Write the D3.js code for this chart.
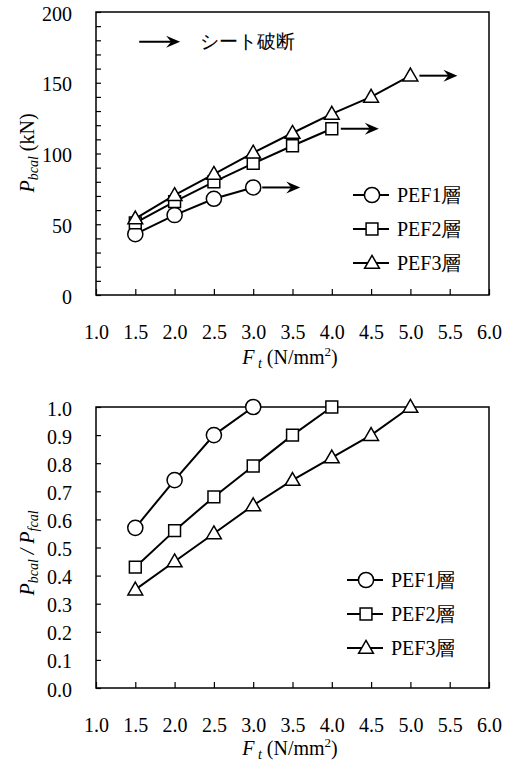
<!DOCTYPE html>
<html>
<head>
<meta charset="utf-8">
<script src="https://cdn.jsdelivr.net/npm/d3@7"></script>
<style>
  body { margin: 0; background: #fff; }
</style>
</head>
<body>
<script>
// tensile strength of fibre sheet F_t (N/mm2)
const ft = [1.5, 2.0, 2.5, 3.0, 3.5, 4.0, 4.5, 5.0]
const xTicks = [1.0, 1.5, 2.0, 2.5, 3.0, 3.5, 4.0, 4.5, 5.0, 5.5, 6.0]
const seriesNames = ['PEF1層', 'PEF2層', 'PEF3層']

// upper chart: P_bcal (kN)
const pef1Load = [43, 56.5, 68, 76]
const pef2Load = [51, 66, 80, 93, 105.5, 117.5]
const pef3Load = [54, 70.5, 85.5, 100.5, 114.5, 128, 140, 155]

// lower chart: P_bcal / P_fcal
const pef1Ratio = [0.57, 0.74, 0.90, 1.0]
const pef2Ratio = [0.43, 0.56, 0.68, 0.79, 0.90, 1.0]
const pef3Ratio = [0.35, 0.45, 0.55, 0.65, 0.74, 0.82, 0.90, 1.0]

const symbols = [d3.symbolCircle, d3.symbolSquare, d3.symbolTriangle]
const symSizes = [180, 140, 95]
const FONT = 'Liberation Serif, Times New Roman, Times, Tinos, Noto Serif, DejaVu Serif, serif'

const svg = d3.select('body').append('svg')
  .attr('width', 512)
  .attr('height', 762)
  .style('font-family', FONT)

function arrow (g, x1, x2, y) {
  g.append('line')
    .attr('x1', x1).attr('x2', x2 - 8)
    .attr('y1', y).attr('y2', y)
    .style('stroke', '#000').style('stroke-width', 2)
  g.append('path')
    .attr('d', `M${x2},${y} L${x2 - 14},${y - 6} L${x2 - 9},${y} L${x2 - 14},${y + 6} Z`)
    .style('fill', '#000')
}

function drawChart (opt) {
  const g = svg.append('g')
  const x = d3.scaleLinear().domain([1, 6]).range([96, 489])
  const y = d3.scaleLinear().domain(opt.yDomain).range([opt.bottom, opt.top])

  // frame
  g.append('rect')
    .attr('x', x.range()[0]).attr('y', opt.top)
    .attr('width', x.range()[1] - x.range()[0])
    .attr('height', opt.bottom - opt.top)
    .style('fill', 'none').style('stroke', '#000').style('stroke-width', 1.5)

  const xAxis = g.append('g')
    .attr('transform', `translate(0, ${opt.bottom})`)
    .call(d3.axisBottom(x).tickValues(xTicks).tickSize(-6).tickPadding(opt.xPad)
      .tickFormat(d3.format('.1f')))
  xAxis.attr('font-family', null).attr('font-size', 20)
  xAxis.select('.domain').remove()
  xAxis.selectAll('text').style('font-family', FONT)
  xAxis.selectAll('line').style('stroke-width', 1.2)

  const yAxis = g.append('g')
    .attr('transform', `translate(${x.range()[0]}, 0)`)
    .call(d3.axisLeft(y).tickValues(opt.yTicks).tickSize(-5).tickPadding(24)
      .tickFormat(opt.yFormat))
  yAxis.attr('font-family', null).attr('font-size', 20)
  yAxis.select('.domain').remove()
  yAxis.selectAll('text').attr('dy', '0.4em').style('font-family', FONT)
  yAxis.selectAll('line').style('stroke-width', 1.2)

  const line = d3.line()
    .x((d, i) => x(ft[i]))
    .y(d => y(d))

  opt.series.forEach((vals, s) => {
    g.append('path')
      .datum(vals)
      .attr('d', line)
      .style('fill', 'none').style('stroke', '#000').style('stroke-width', 2)
  })
  opt.series.forEach((vals, s) => {
    g.selectAll('.pt' + s)
      .data(vals)
      .enter().append('path')
      .attr('class', 'pt' + s)
      .attr('transform', (d, i) => `translate(${x(ft[i])}, ${y(d) + (s === 2 ? 1 : 0)})`)
      .attr('d', d3.symbol(symbols[s], symSizes[s]))
      .style('fill', '#fff').style('stroke', '#000').style('stroke-width', 1.5)
  })

  // legend
  seriesNames.forEach((name, s) => {
    const ly = opt.legendY + s * opt.legendGap
    const lg = g.append('g')
    lg.append('line')
      .attr('x1', opt.legendX).attr('x2', opt.legendX + 36)
      .attr('y1', ly).attr('y2', ly)
      .style('stroke', '#000').style('stroke-width', 2)
    lg.append('path')
      .attr('transform', `translate(${opt.legendX + 19}, ${ly + (s === 2 ? 1 : 0)})`)
      .attr('d', d3.symbol(symbols[s], symSizes[s]))
      .style('fill', '#fff').style('stroke', '#000').style('stroke-width', 1.5)
    lg.append('text')
      .attr('x', opt.legendX + 44)
      .attr('y', ly)
      .attr('dy', '0.35em')
      .attr('font-size', 20)
      .text(name)
  })

  // x title
  const xt = g.append('text')
    .attr('x', 290).attr('y', opt.xTitleY)
    .attr('text-anchor', 'middle')
    .attr('font-size', 20)
  xt.append('tspan').attr('font-style', 'italic').text('F')
  xt.append('tspan').attr('font-style', 'italic').attr('font-size', 14)
    .attr('dy', 4).text(' t')
  xt.append('tspan').attr('dy', -4).text(' (N/mm')
  xt.append('tspan').attr('font-size', 13).attr('dy', -8).text('2')
  xt.append('tspan').attr('dy', 8).text(')')

  // y title
  const yt = g.append('text')
    .attr('transform', `translate(34, ${opt.yTitleY}) rotate(-90)`)
    .attr('text-anchor', 'middle')
    .attr('font-size', 20)
  opt.yTitle(yt)

  return { g, x, y }
}

const upper = drawChart({
  top: 12, bottom: 295,
  yDomain: [0, 200],
  yTicks: d3.range(0, 201, 10),
  yFormat: d => d % 50 === 0 ? d : '',
  xPad: 30,
  series: [pef1Load, pef2Load, pef3Load],
  legendX: 353, legendY: 195, legendGap: 34,
  xTitleY: 364,
  yTitleY: 153,
  yTitle: t => {
    t.append('tspan').attr('font-style', 'italic').text('P')
    t.append('tspan').attr('font-style', 'italic').attr('font-size', 14)
      .attr('dy', 4).text('bcal')
    t.append('tspan').attr('dy', -4).text(' (kN)')
  }
})

// arrows: sheet rupture after last point of each series
;[pef1Load, pef2Load, pef3Load].forEach(vals => {
  const i = vals.length - 1
  const px = upper.x(ft[i])
  arrow(upper.g, px + 9, px + 47, upper.y(vals[i]))
})
arrow(upper.g, upper.x(1.55), upper.x(2.07), upper.y(179))
upper.g.append('text')
  .attr('x', upper.x(2.32)).attr('y', upper.y(179))
  .attr('dy', '0.35em')
  .attr('font-size', 19)
  .text('シート破断')

drawChart({
  top: 407, bottom: 688,
  yDomain: [0, 1],
  yTicks: d3.range(0, 11).map(d => d / 10),
  yFormat: d3.format('.1f'),
  xPad: 30,
  series: [pef1Ratio, pef2Ratio, pef3Ratio],
  legendX: 347, legendY: 580, legendGap: 34,
  xTitleY: 755,
  yTitleY: 553,
  yTitle: t => {
    t.append('tspan').attr('font-style', 'italic').text('P')
    t.append('tspan').attr('font-style', 'italic').attr('font-size', 14)
      .attr('dy', 4).text('bcal')
    t.append('tspan').attr('font-style', 'italic').attr('dy', -4).text(' / P')
    t.append('tspan').attr('font-style', 'italic').attr('font-size', 14)
      .attr('dy', 4).text('fcal')
  }
})
</script>
</body>
</html>
